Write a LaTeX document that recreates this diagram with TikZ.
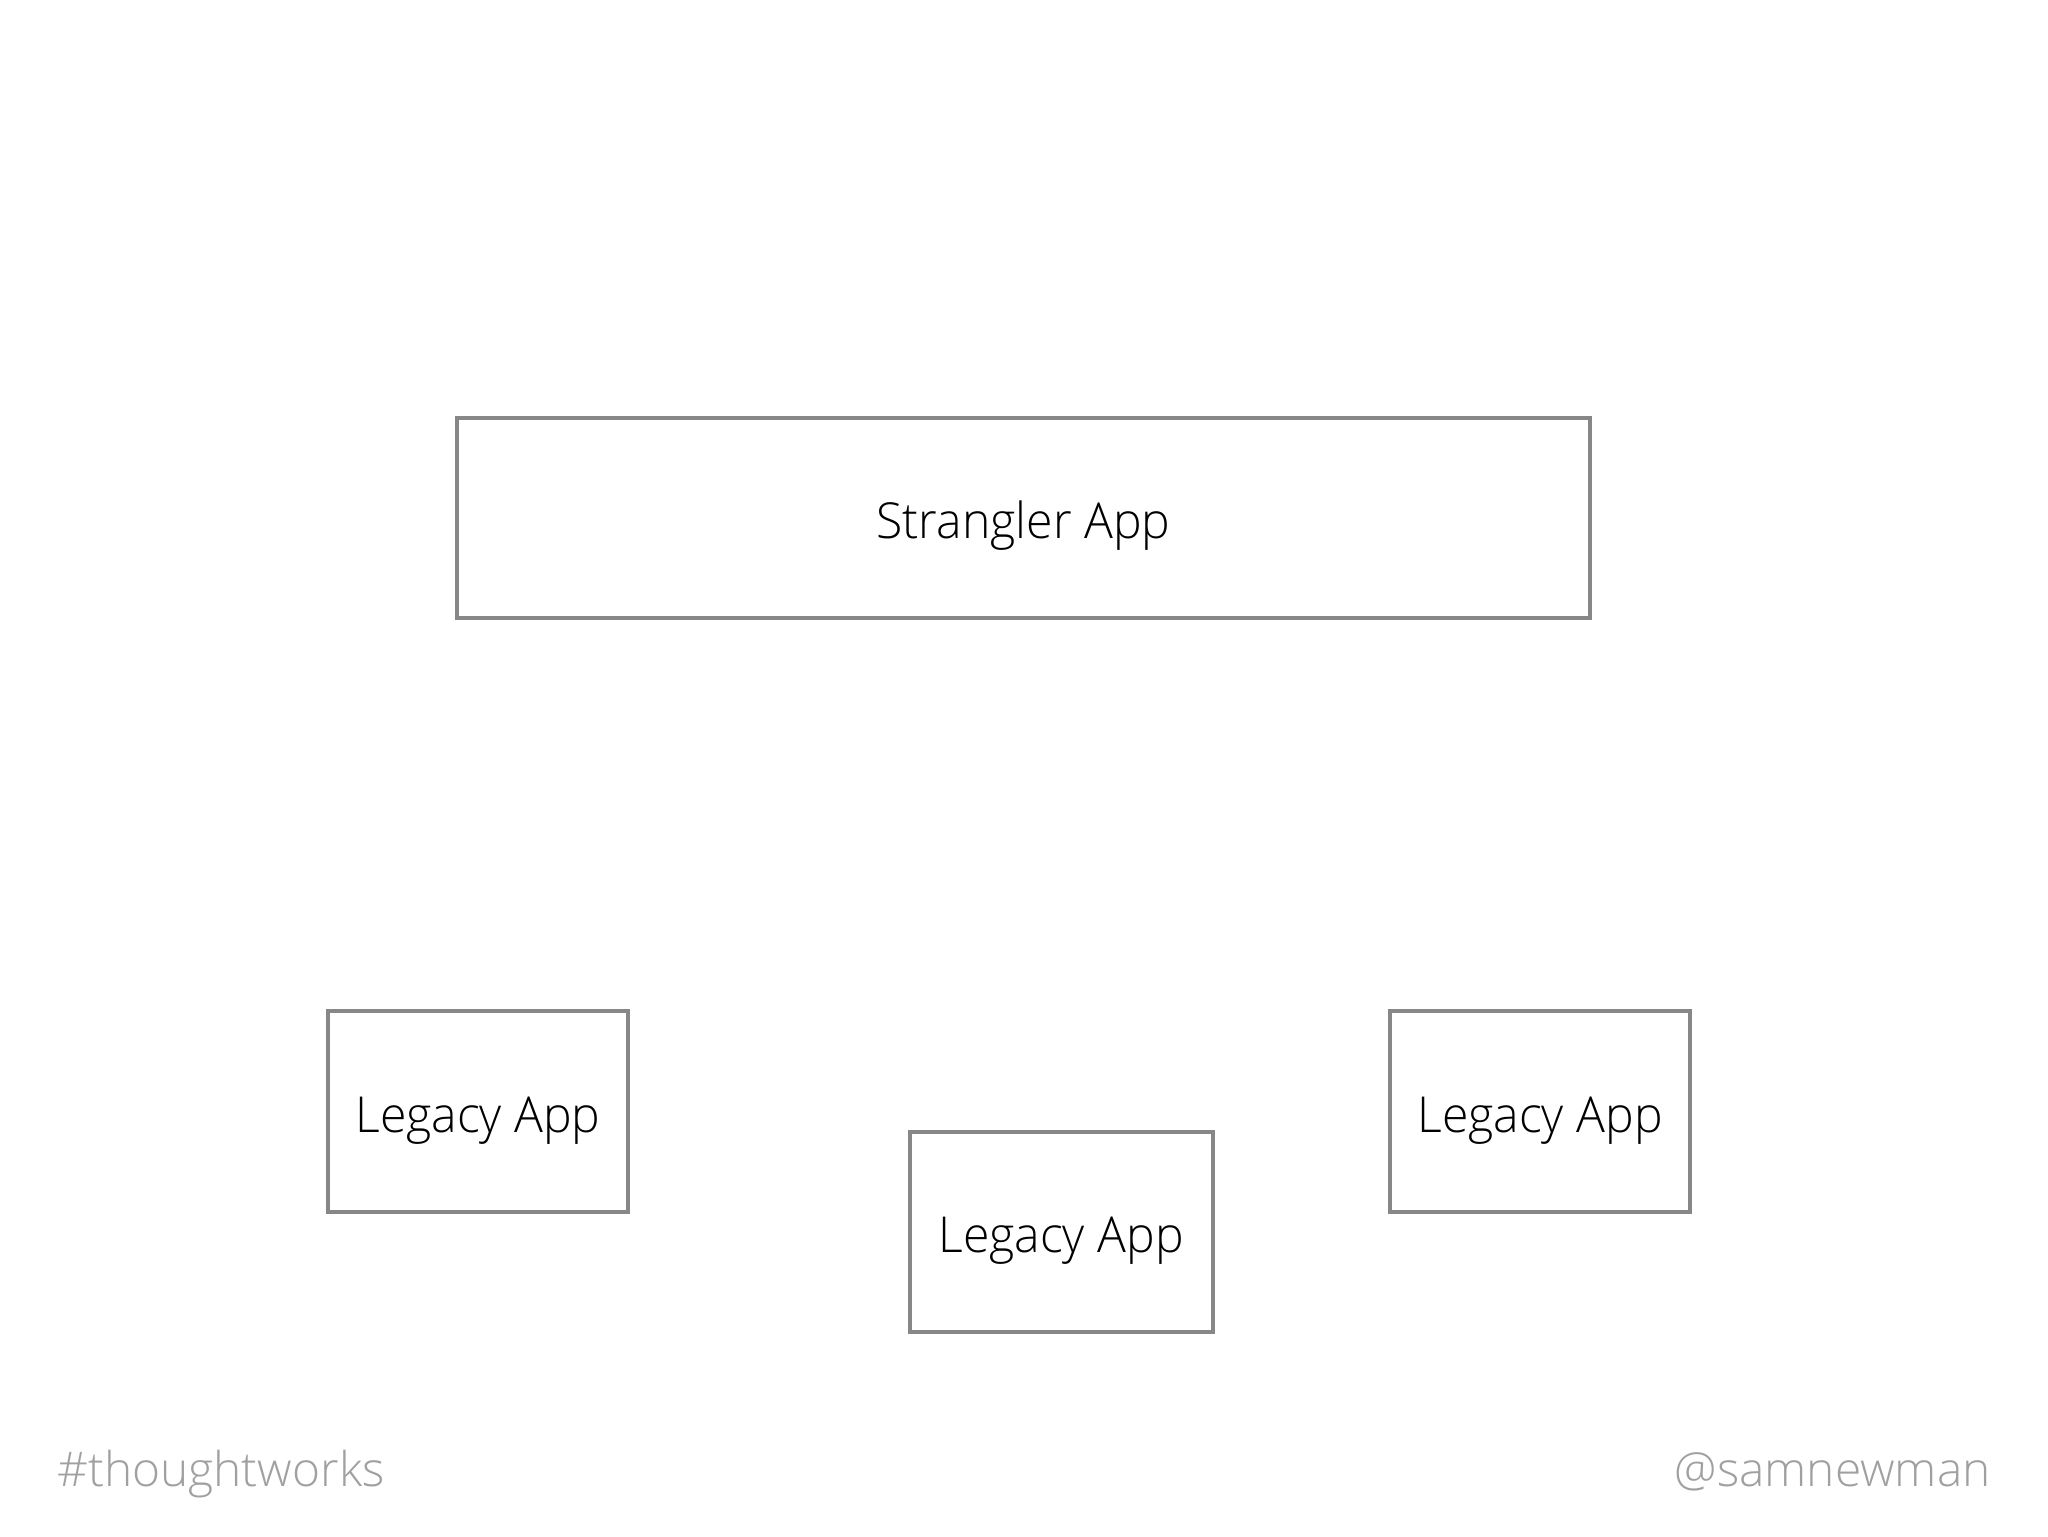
\documentclass[tikz,border=0pt]{standalone}
\usepackage{fontspec}
\setmainfont{Open Sans Light}[FakeStretch=0.97]
\newfontfamily\footfont{Open Sans Light}
\definecolor{boxgray}{HTML}{878787}
\definecolor{footgray}{HTML}{A0A0A0}
\begin{document}
\begin{tikzpicture}[x=0.5pt,y=-0.5pt,
  box/.style={draw=boxgray, line width=2pt, inner sep=0pt, text height=20.7pt, text depth=0pt,
    font=\fontsize{24.8}{30}\selectfont, text=black},
  foot/.style={inner sep=0pt, text=footgray, font=\footfont\fontsize{23.9}{29}\selectfont}]
\useasboundingbox[fill=white] (0,0) rectangle (2048,1536);
\node[box, minimum width=566.5pt, minimum height=100pt] (strangler) at (1023.5,518) {Strangler App};
\node[box, minimum width=150pt, minimum height=100.5pt] (legacyL) at (478,1111.5) {Legacy App};
\node[box, minimum width=151.5pt, minimum height=100pt] (legacyM) at (1061,1232) {Legacy App};
\node[box, minimum width=150pt, minimum height=100.5pt] (legacyR) at (1540,1111.5) {Legacy App};
\node[foot, anchor=base west] (tag) at (57,1486) {\#thoughtworks};
\node[foot, anchor=base east] (handle) at (1991,1486) {@samnewman};
\end{tikzpicture}
\end{document}
